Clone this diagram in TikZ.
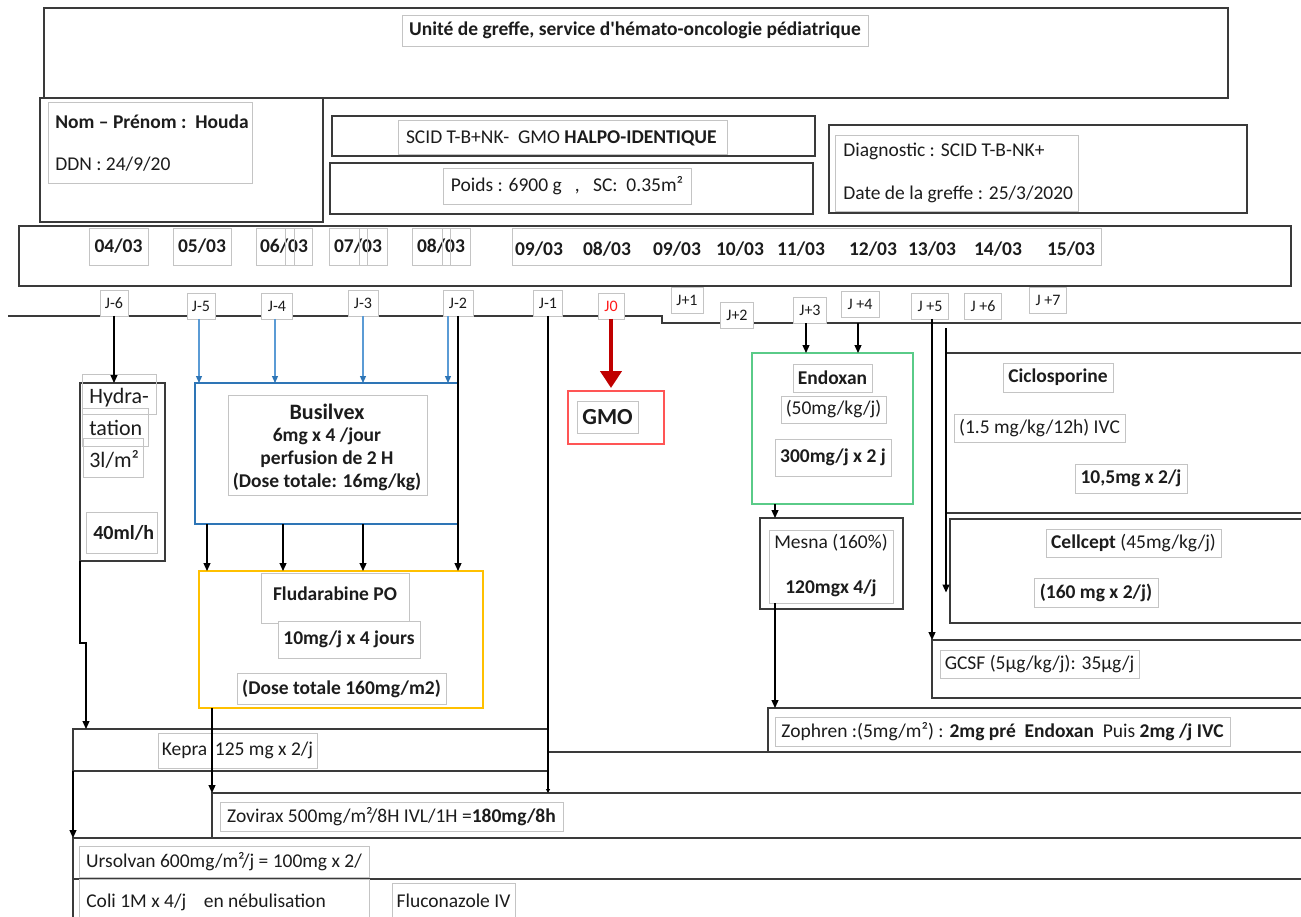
\documentclass[tikz,border=0pt]{standalone}
\usepackage{fontspec}
\setmainfont{Carlito}[Ligatures=TeXOff]
\usetikzlibrary{arrows.meta}
\definecolor{lc}{HTML}{3A3A3A}
\definecolor{tbd}{HTML}{C4C4C4}
\definecolor{tx}{HTML}{1C1C1C}
\definecolor{bl}{HTML}{2E75B6}
\definecolor{bll}{HTML}{5B9BD5}
\definecolor{gr}{HTML}{5ACB88}
\definecolor{yl}{HTML}{FFC000}
\definecolor{rd}{HTML}{FF5555}
\definecolor{drd}{HTML}{C00000}
\definecolor{jred}{HTML}{FF1A1A}
\newcommand\myrg{\fontsize{19.5}{22}\selectfont}
\newcommand\mybf{\fontsize{19.5}{22}\selectfont\bfseries}
\newcommand\myj{\fontsize{16}{18}\selectfont}
\begin{document}
\begin{tikzpicture}[x=1pt,y=-1pt,
 every node/.style={text=tx, font=\myrg, outer sep=0pt},
 frm/.style={draw=lc, line width=1.6pt, anchor=north west, inner sep=0pt},
 tb/.style={draw=tbd, line width=0.8pt, fill=white, anchor=north west, inner sep=0pt},
 tbo/.style={draw=tbd, line width=0.8pt, anchor=north west, inner sep=0pt},
 jb/.style={draw=tbd, line width=0.8pt, fill=white, inner sep=0pt, font=\myj, minimum height=26},
 wire/.style={draw=lc, line width=1.3pt},
 arw/.style={draw=black, line width=1.2pt, -{Triangle[length=8pt,width=7pt]}},
 sarw/.style={draw=black, line width=1.2pt, -{Triangle[length=4pt,width=4pt]}},
 barw/.style={draw=bll, line width=1.2pt, -{Triangle[length=7pt,width=6pt,color=bl]}},
]
\fill[white] (0,0) rectangle (1301,917);
\useasboundingbox (0,0) rectangle (1301,917);

% ---------- header ----------
\node[frm, minimum width=1184, minimum height=90] (hdr) at (44,8) {};
\node[tb, minimum width=466, minimum height=31, font=\mybf] (ttl) at (402,15) {Unité de greffe, service d'hémato-oncologie pédiatrique};

\node[frm, minimum width=283, minimum height=124] (idb) at (40,98) {};
\node[tb, minimum width=204, minimum height=81] (idt) at (48,102) {};
\node[anchor=west, font=\mybf] (nom) at (52,122) {Nom – Prénom :\ \ Houda};
\node[anchor=west] (ddn) at (52,164) {DDN : 24/9/20};

\node[frm, minimum width=483, minimum height=40] (scid) at (332,116) {};
\node[tb, minimum width=329, minimum height=34] (scidt) at (398,120) {};
\node[anchor=east] (scidtx) at (720,138) {SCID T-B+NK-\ \ GMO \textbf{HALPO-IDENTIQUE}};

\node[frm, minimum width=483, minimum height=51] (pds) at (330,163) {};
\node[tb, minimum width=248, minimum height=36] (pdst) at (443,168) {Poids : 6900 g\ \ \ ,\ \ \ SC:\ \ 0.35m²};

\node[frm, minimum width=418, minimum height=88] (dgb) at (829,125) {};
\node[tb, minimum width=243, minimum height=76] (dgt) at (835,135) {};
\node[anchor=west] (diag) at (840,151) {Diagnostic : SCID T-B-NK+};
\node[anchor=west] (dgr) at (840,194) {Date de la greffe : 25/3/2020};

% ---------- dates ----------
\node[frm, minimum width=1272, minimum height=60] (drow) at (19,226) {};
\node[tb, minimum width=59, minimum height=37, font=\mybf] (d1) at (89,228) {04/03};
\node[tb, minimum width=58, minimum height=37, font=\mybf] (d2) at (173,228) {05/03};
\node[tb, minimum width=56, minimum height=37, font=\mybf] (d3) at (256,228) {06/03};
\node[tb, minimum width=58, minimum height=37, font=\mybf] (d4) at (329,228) {07/03};
\node[tb, minimum width=58, minimum height=37, font=\mybf] (d5) at (412,228) {08/03};
\draw[tbd, line width=0.8pt] (285,228) -- (285,265) (294,228) -- (294,265)
  (359,228) -- (359,265) (367,228) -- (367,265)
  (442,228) -- (442,265) (450,228) -- (450,265);
\node[tb, minimum width=589, minimum height=37] (d6) at (512,228) {};
\node[font=\mybf] (t09a) at (539,249) {09/03};
\node[font=\mybf] (t08) at (607,249) {08/03};
\node[font=\mybf] (t09) at (677,249) {09/03};
\node[font=\mybf] (t10) at (740,249) {10/03};
\node[font=\mybf] (t11) at (801,249) {11/03};
\node[font=\mybf] (t12) at (873,249) {12/03};
\node[font=\mybf] (t13) at (932,249) {13/03};
\node[font=\mybf] (t14) at (998,249) {14/03};
\node[font=\mybf] (t15) at (1071,249) {15/03};

% ---------- timeline ----------
\coordinate (tl0) at (8,316);
\coordinate (tls1) at (662,316);
\coordinate (tls2) at (662,323);
\coordinate (tl1) at (1310,323);
\draw[wire] (tl0) -- (tls1) -- (tls2) -- (tl1);

\node[jb, minimum width=28] (j6) at (114,303) {J-6};
\node[jb, minimum width=28] (j5) at (201,306) {J-5};
\node[jb, minimum width=31] (j4) at (277,306) {J-4};
\node[jb, minimum width=30] (j3) at (363,303) {J-3};
\node[jb, minimum width=30] (j2) at (458,303) {J-2};
\node[jb, minimum width=29] (j1) at (548,303) {J-1};
\node[jb, minimum width=26, text=jred] (j0) at (611,306) {J0};
\node[jb, minimum width=32] (jp1) at (687,300) {J+1};
\node[jb, minimum width=33] (jp2) at (737,315) {J+2};
\node[jb, minimum width=33] (jp3) at (810,310) {J+3};
\node[jb, minimum width=38] (jp4) at (860,304) {J +4};
\node[jb, minimum width=37] (jp5) at (930,306) {J +5};
\node[jb, minimum width=37] (jp6) at (983,306) {J +6};
\node[jb, minimum width=37] (jp7) at (1048,300) {J +7};

% ---------- hydration ----------
\node[frm, line width=1.4pt, minimum width=85, minimum height=178] (hyd) at (80,383) {};
\node[tbo, minimum width=74, minimum height=40] (hy1) at (82,374) {};
\node[tbo, minimum width=66, minimum height=38] (hy2) at (82,408) {};
\node[tbo, minimum width=60, minimum height=39] (hy3) at (83,438) {};
\node[tbo, minimum width=71, minimum height=41] (hy4) at (86,512) {};
\node[anchor=west, font=\fontsize{22}{24}\selectfont] (hyt1) at (86,398) {Hydra-};
\node[anchor=west, font=\fontsize{22}{24}\selectfont] (hyt2) at (86,428) {tation};
\node[anchor=west, font=\fontsize{22}{24}\selectfont] (hyt3) at (86,459) {3l/m²};
\node[anchor=west, font=\fontsize{20}{22}\selectfont\bfseries] (hyt4) at (90,533) {40ml/h};
\draw[arw] (j6.south) -- (j6.south |- hyd.north);

% ---------- busilvex ----------
\node[frm, draw=bl, line width=1.4pt, minimum width=263, minimum height=141] (bus) at (195,383) {};
\node[tb, minimum width=199, minimum height=100] (bust) at (228,395) {};
\node[font=\fontsize{22}{24}\selectfont\bfseries] (bus1) at (327,412) {Busilvex};
\node[font=\mybf] (bus2) at (327,436) {6mg x 4 /jour};
\node[font=\mybf] (bus3) at (327,459) {perfusion de 2 H};
\node[font=\mybf] (bus4) at (327,482) {(Dose totale: 16mg/kg)};
\draw[barw] ([xshift=-2pt]j5.south) -- ([xshift=-2pt]j5.south |- bus.north);
\draw[barw] ([xshift=-2pt]j4.south) -- ([xshift=-2pt]j4.south |- bus.north);
\draw[barw] (j3.south) -- (j3.south |- bus.north);
\draw[barw] ([xshift=-10pt]j2.south) -- ([xshift=-10pt]j2.south |- bus.north);

% ---------- fludarabine ----------
\node[frm, draw=yl, line width=1.4pt, minimum width=284, minimum height=137] (flu) at (199,571) {};
\node[tb, minimum width=148, minimum height=50] (flu1) at (261,573) {};
\node[font=\mybf] (flu1t) at (335,594) {Fludarabine PO};
\node[tb, minimum width=142, minimum height=37, font=\mybf] (flu2) at (278,621) {10mg/j x 4 jours};
\node[tb, minimum width=209, minimum height=31, font=\mybf] (flu3) at (237,673) {(Dose totale 160mg/m2)};
\draw[arw] ([xshift=12pt]bus.south west) -- ([xshift=12pt]bus.south west |- flu.north);
\draw[arw] ([xshift=88pt]bus.south west) -- ([xshift=88pt]bus.south west |- flu.north);
\draw[arw] ([xshift=168pt]bus.south west) -- ([xshift=168pt]bus.south west |- flu.north);
\draw[arw] (j2.south) -- (j2.south |- flu.north);

% ---------- GMO ----------
\node[frm, draw=rd, line width=1.2pt, minimum width=96, minimum height=53] (gmo) at (568,391) {};
\node[tb, minimum width=61, minimum height=32, font=\fontsize{23}{25}\selectfont\bfseries] (gmot) at (577,401) {GMO};
\draw[drd, line width=4.5pt, -{Triangle[length=17pt,width=21pt]}, shorten >=3pt] (j0.south) -- (j0.south |- gmo.north);

% ---------- Endoxan / Mesna ----------
\node[frm, draw=gr, line width=1.4pt, minimum width=161, minimum height=151] (endo) at (752,353) {};
\node[tb, minimum width=79, minimum height=28, font=\mybf] (en1) at (793,364) {Endoxan};
\node[tb, minimum width=105, minimum height=27] (en2) at (781,396) {(50mg/kg/j)};
\node[tb, minimum width=116, minimum height=37, font=\mybf] (en3) at (775,439) {300mg/j x 2 j};
\draw[arw] ([xshift=-4pt]jp3.south) -- ([xshift=-4pt]jp3.south |- endo.north);
\draw[arw] ([xshift=-2pt]tl1 -| jp4.south) -- ([xshift=-2pt]jp4.south |- endo.north);

\node[frm, minimum width=143, minimum height=91] (mes) at (760,518) {};
\node[tb, minimum width=124, minimum height=73] (mest) at (769,530) {};
\node (mes1) at (831,543) {Mesna (160\%)};
\node[font=\mybf] (mes2) at (831,588) {120mgx 4/j};
\draw[arw] ([xshift=23pt]endo.south west) -- ([xshift=23pt]endo.south west |- mes.north);

% ---------- right column ----------
\node[frm, minimum width=370, minimum height=160] (cic) at (946,353) {};
\node[tb, minimum width=110, minimum height=29, font=\mybf] (cic1) at (1003,363) {Ciclosporine};
\node[tb, minimum width=171, minimum height=28] (cic2) at (954,414) {(1.5 mg/kg/12h) IVC};
\node[tb, minimum width=112, minimum height=29, font=\mybf] (cic3) at (1075,464) {10,5mg x 2/j};

\node[frm, minimum width=370, minimum height=104] (cel) at (950,519) {};
\node[tb, minimum width=175, minimum height=28] (cel1) at (1046,529) {\textbf{Cellcept} (45mg/kg/j)};
\node[tb, minimum width=124, minimum height=29, font=\mybf] (cel2) at (1034,578) {(160 mg x 2/j)};

\coordinate (cv0) at (946,328);
\draw[arw] (cv0) -- (cv0 |- cel2.west);

\node[frm, minimum width=380, minimum height=58] (gcs) at (932,640) {};
\node[tb, minimum width=199, minimum height=28] (gcst) at (940,650) {GCSF (5µg/kg/j): 35µg/j};
\draw[arw] ([xshift=2pt]jp5.south) -- (gcs.north west);

% ---------- Zophren ----------
\node[frm, minimum width=545, minimum height=44] (zop) at (768,708) {};
\node[tb, minimum width=455, minimum height=29] (zopt) at (775,717) {Zophren :(5mg/m²) : \textbf{2mg pré\ \ Endoxan}\ \ Puis \textbf{2mg /j IVC}};
\draw[arw] ([xshift=6pt]mest.south west) -- ([xshift=6pt]mest.south west |- zop.north);

% ---------- bottom rows ----------
\node[frm, minimum width=475, minimum height=42] (kep) at (73,729) {};
\node[tb, minimum width=53, minimum height=35] (kep1) at (158,733) {Kepra};
\node[tb, minimum width=106, minimum height=35] (kep2) at (211,733) {125 mg x 2/j};
\draw[wire] (zop.south west -| kep.east) -- (zop.south west);

\node[frm, minimum width=1100, minimum height=45] (zov) at (212,793) {};
\node[tb, minimum width=343, minimum height=29] (zovt) at (220,802) {Zovirax 500mg/m²/8H IVL/1H =\textbf{180mg/8h}};

\node[frm, minimum width=1240, minimum height=41] (urs) at (73,838) {};
\node[tb, minimum width=290, minimum height=31] (urst) at (79,846) {Ursolvan 600mg/m²/j = 100mg x 2/};

\node[frm, minimum width=1240, minimum height=60] (col) at (73,879) {};
\node[tb, minimum width=290, minimum height=40] (colt) at (79,879) {};
\node[anchor=west] (coltx) at (83,902) {Coli 1M x 4/j\ \ \ \ en nébulisation};
\node[tb, minimum width=123, minimum height=36] (flc) at (392,883) {Fluconazole IV};

% connectors to bottom rows
\coordinate (hk) at (86,643);
\draw[arw] (hyd.south west) -- (hyd.south west |- hk) -- (hk) -- (hk |- kep.north);
\draw[arw] (kep.south west) -- (urs.north west);
\draw[arw] ([xshift=13pt]flu.south west) -- (zov.north west);
\draw[sarw] (j1.south) -- (j1.south |- zov.north);
\end{tikzpicture}
\end{document}
